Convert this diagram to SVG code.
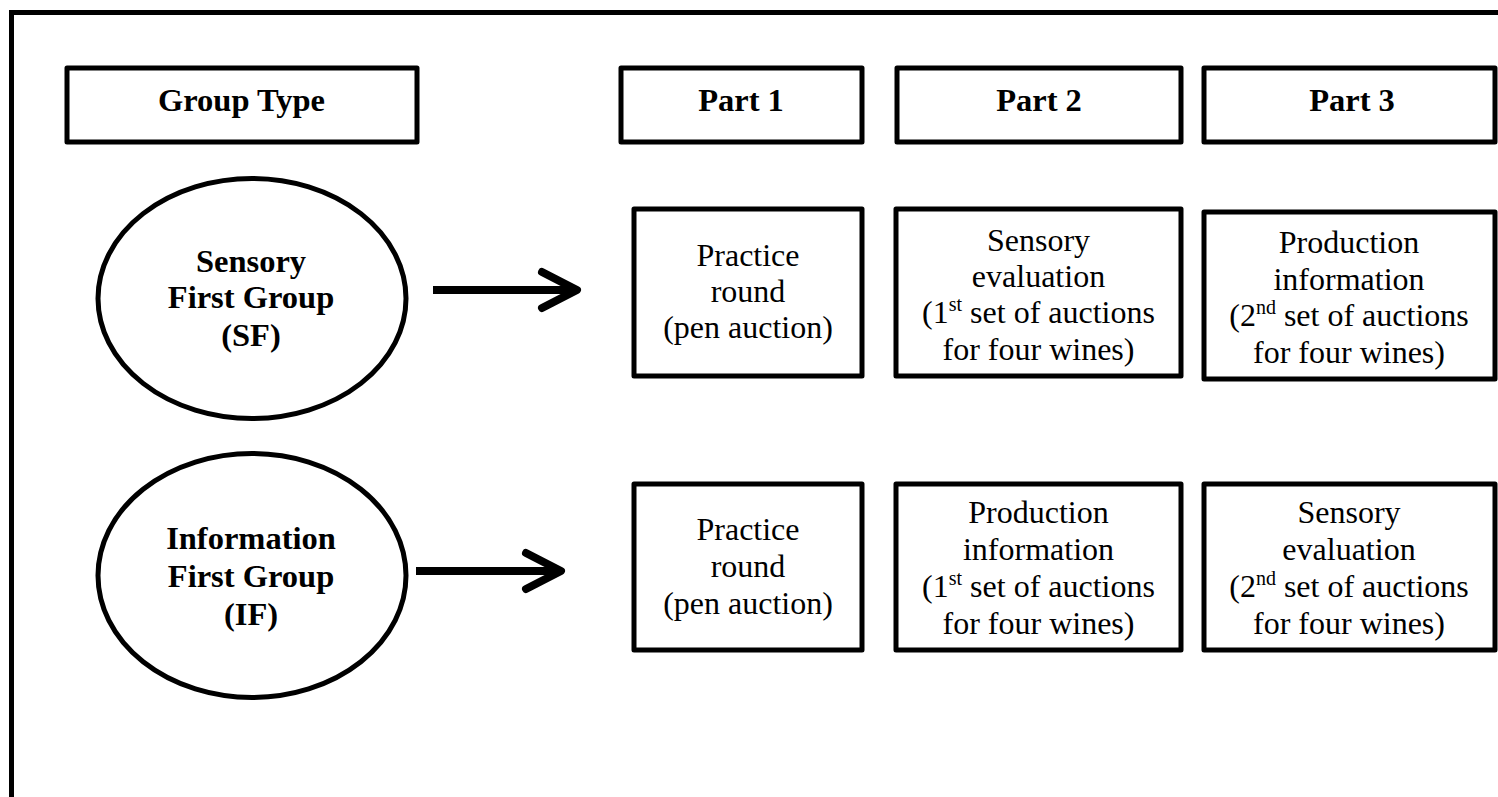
<svg xmlns="http://www.w3.org/2000/svg" width="1498" height="797" viewBox="0 0 1498 797">
<style>
.frame{fill:none;stroke:#000;stroke-width:5}
.box{fill:#fff;stroke:#000;stroke-width:5;stroke-linejoin:round}
.ell{fill:#fff;stroke:#000;stroke-width:5}
.hd{font-family:"Liberation Serif","Times New Roman",serif;font-weight:bold;font-size:32.5px;text-anchor:middle;fill:#000}
.tx{font-family:"Liberation Serif","Times New Roman",serif;font-size:32px;text-anchor:middle;fill:#000}
.sup{font-size:20px}
.arr{stroke:#000;stroke-width:8;fill:none;marker-end:url(#chev)}
</style>
<defs>
<marker id="chev" markerUnits="userSpaceOnUse" markerWidth="60" markerHeight="60" viewBox="-50 -30 60 60" refX="0" refY="0" orient="auto" overflow="visible">
<path d="M-35,-18 L0,0 L-35,18" fill="none" stroke="#000" stroke-width="8" stroke-linecap="round" stroke-linejoin="round"/>
</marker>
</defs>
<rect width="1498" height="797" fill="#fff"/>
<rect class="frame" x="11.5" y="12.5" width="1500" height="800"/>

<g id="hdr-group-type"><rect class="box" x="67" y="68" width="350" height="74"/><text class="hd" x="241.5" y="111">Group Type</text></g>
<g id="hdr-part1"><rect class="box" x="621" y="68" width="241" height="74"/><text class="hd" x="741" y="111">Part 1</text></g>
<g id="hdr-part2"><rect class="box" x="897" y="68" width="284" height="74"/><text class="hd" x="1039" y="111">Part 2</text></g>
<g id="hdr-part3"><rect class="box" x="1204" y="68" width="291" height="74"/><text class="hd" x="1352" y="111">Part 3</text></g>

<g id="sf-group"><ellipse class="ell" cx="252" cy="298.5" rx="154" ry="120"/>
<text class="hd" x="251" y="272">Sensory</text><text class="hd" x="251" y="308">First Group</text><text class="hd" x="251" y="346">(SF)</text></g>
<g id="if-group"><ellipse class="ell" cx="252" cy="575.5" rx="154" ry="122"/>
<text class="hd" x="251" y="549">Information</text><text class="hd" x="251" y="587">First Group</text><text class="hd" x="251" y="625">(IF)</text></g>

<g id="connectors">
<line class="arr" x1="433" y1="290" x2="577" y2="290"/>
<line class="arr" x1="416" y1="571" x2="561" y2="571"/>
</g>

<g id="sf-part1"><rect class="box" x="634" y="209" width="228" height="167"/>
<text class="tx" x="748" y="266">Practice</text><text class="tx" x="748" y="302">round</text><text class="tx" x="748" y="338">(pen auction)</text></g>
<g id="sf-part2"><rect class="box" x="896" y="209" width="285" height="167"/>
<text class="tx" x="1038.5" y="251">Sensory</text><text class="tx" x="1038.5" y="287">evaluation</text>
<text class="tx" x="1038.5" y="323">(1<tspan class="sup" dy="-12">st</tspan><tspan dy="12"> set of auctions</tspan></text>
<text class="tx" x="1038.5" y="360">for four wines)</text></g>
<g id="sf-part3"><rect class="box" x="1204" y="212" width="291" height="167"/>
<text class="tx" x="1349" y="253">Production</text><text class="tx" x="1349" y="290">information</text>
<text class="tx" x="1349" y="326">(2<tspan class="sup" dy="-12">nd</tspan><tspan dy="12"> set of auctions</tspan></text>
<text class="tx" x="1349" y="363">for four wines)</text></g>

<g id="if-part1"><rect class="box" x="634" y="484" width="228" height="166"/>
<text class="tx" x="748" y="540">Practice</text><text class="tx" x="748" y="577">round</text><text class="tx" x="748" y="614">(pen auction)</text></g>
<g id="if-part2"><rect class="box" x="896" y="484" width="285" height="166"/>
<text class="tx" x="1038.5" y="523">Production</text><text class="tx" x="1038.5" y="560">information</text>
<text class="tx" x="1038.5" y="597">(1<tspan class="sup" dy="-12">st</tspan><tspan dy="12"> set of auctions</tspan></text>
<text class="tx" x="1038.5" y="634">for four wines)</text></g>
<g id="if-part3"><rect class="box" x="1204" y="484" width="291" height="166"/>
<text class="tx" x="1349" y="523">Sensory</text><text class="tx" x="1349" y="560">evaluation</text>
<text class="tx" x="1349" y="597">(2<tspan class="sup" dy="-12">nd</tspan><tspan dy="12"> set of auctions</tspan></text>
<text class="tx" x="1349" y="634">for four wines)</text></g>
</svg>
